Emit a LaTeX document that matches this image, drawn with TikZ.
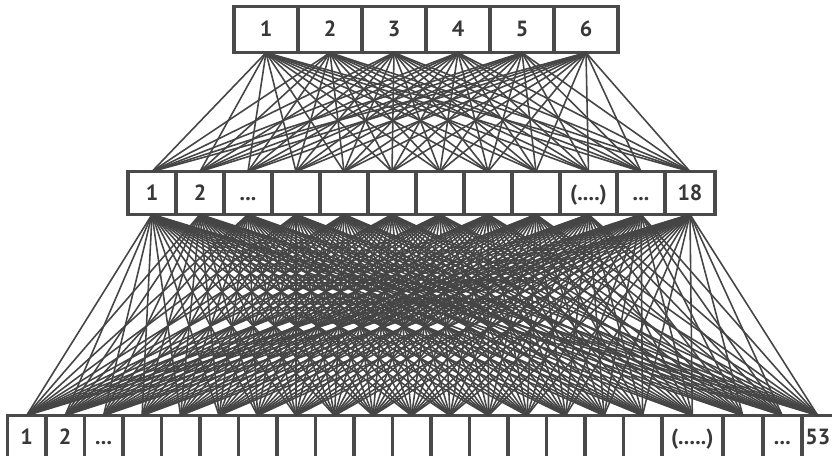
\documentclass[tikz,border=0pt]{standalone}
\usepackage{fontspec}
\setsansfont{PT Sans}
\usepackage{tikz}
\usetikzlibrary{positioning}
\definecolor{boxgray}{HTML}{4A4A4A}
\definecolor{linegray}{HTML}{454545}
\definecolor{textgray}{HTML}{383838}

\begin{document}
\begin{tikzpicture}[x=0.02cm, y=-0.02cm,
    cell/.style={draw=boxgray, fill=white, line width=2pt, inner sep=0pt, outer sep=0pt,
        minimum height=0.86cm, text height=1.9ex, text depth=0pt, text=textgray,
        font=\sffamily\bfseries\fontsize{12.5}{12}\selectfont},
    link/.style={draw=linegray, line width=0.9pt}]
    \useasboundingbox (0,0) rectangle (832,456);
    \foreach \i in {1,...,6} {
        \node[cell, minimum width=1.28cm, minimum height=0.92cm] (t\i) at (202+\i*64,29.7) {\i};
    }
    \node[cell, minimum width=0.96cm, anchor=west] (m1) at (128,193) {1};
    \foreach \i/\w/\txt in {2/48/2, 3/48/{...}, 4/48/{}, 5/48/{}, 6/48/{}, 7/48/{}, 8/48/{},
        9/48/{}, 10/57/{(....)}, 11/48/{...}, 12/50/18} {
        \pgfmathtruncatemacro{\p}{\i-1}
        \node[cell, minimum width=\w*0.02cm, right=0pt of m\p] (m\i) {\txt};
    }
    \node[cell, minimum width=0.77cm, anchor=west] (b1) at (7.3,437) {1};
    \foreach \i/\w/\txt in {2/38.5/2, 3/38.5/{...}, 4/38.5/{}, 5/38.5/{}, 6/38.5/{}, 7/38.5/{},
        8/38.5/{}, 9/38.5/{}, 10/38.5/{}, 11/38.5/{}, 12/38.5/{}, 13/38.5/{}, 14/38.5/{},
        15/38.5/{}, 16/38.5/{}, 17/38.5/{}, 18/61/{(.....)}, 19/40/{}, 20/39/{...}, 21/32/53} {
        \pgfmathtruncatemacro{\p}{\i-1}
        \node[cell, minimum width=\w*0.02cm, right=0pt of b\p] (b\i) {\txt};
    }
    \foreach \i in {1,...,6} {
        \foreach \j in {1,...,12} {
            \draw[link] (t\i.south) -- (m\j.north);
        }
    }
    \foreach \j in {1,...,12} {
        \foreach \k in {1,...,21} {
            \draw[link] (m\j.south) -- (b\k.north);
        }
    }
\end{tikzpicture}
\end{document}
